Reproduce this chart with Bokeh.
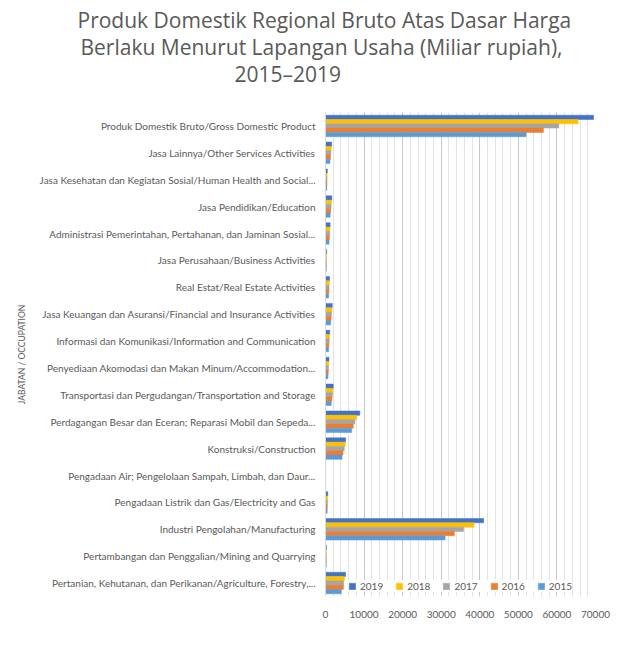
from bokeh.plotting import figure
from bokeh.models import FactorRange, Range1d, Legend, LegendItem, ColumnDataSource, SingleIntervalTicker, Title
from bokeh.transform import dodge
from bokeh.embed import file_html
from bokeh.resources import INLINE

# categories listed top to bottom as in the reference
categories = [
    "Produk Domestik Bruto/Gross Domestic Product",
    "Jasa Lainnya/Other Services Activities",
    "Jasa Kesehatan dan Kegiatan Sosial/Human Health and Social...",
    "Jasa Pendidikan/Education",
    "Administrasi Pemerintahan, Pertahanan, dan Jaminan Sosial...",
    "Jasa Perusahaan/Business Activities",
    "Real Estat/Real Estate Activities",
    "Jasa Keuangan dan Asuransi/Financial and Insurance Activities",
    "Informasi dan Komunikasi/Information and Communication",
    "Penyediaan Akomodasi dan Makan Minum/Accommodation...",
    "Transportasi dan Pergudangan/Transportation and Storage",
    "Perdagangan Besar dan Eceran; Reparasi Mobil dan Sepeda...",
    "Konstruksi/Construction",
    "Pengadaan Air; Pengelolaan Sampah, Limbah, dan Daur...",
    "Pengadaan Listrik dan Gas/Electricity and Gas",
    "Industri Pengolahan/Manufacturing",
    "Pertambangan dan Penggalian/Mining and Quarrying",
    "Pertanian, Kehutanan, dan Perikanan/Agriculture, Forestry,...",
]
years = ["2019", "2018", "2017", "2016", "2015"]
v2019 = [69500, 1600, 480, 1650, 1200, 300, 1050, 1750, 1100, 900, 2000, 8900, 5200, 40, 600, 41000, 250, 5200]
v2018 = [65500, 1500, 440, 1550, 1150, 280, 990, 1650, 1030, 840, 1900, 8100, 5100, 38, 560, 38500, 240, 4900]
v2017 = [60500, 1400, 400, 1450, 1100, 260, 930, 1550, 960, 780, 1800, 7650, 4850, 36, 520, 35800, 230, 4700]
v2016 = [56500, 1300, 370, 1350, 1000, 240, 870, 1450, 880, 720, 1650, 7200, 4550, 34, 480, 33400, 220, 4650]
v2015 = [52000, 1150, 330, 1200, 920, 220, 800, 1350, 800, 650, 1500, 6800, 4300, 32, 440, 31000, 210, 4100]
series = [v2019, v2018, v2017, v2016, v2015]
colors = ["#4472C4", "#FFC000", "#A5A5A5", "#ED7D31", "#5B9BD5"]
offsets = [0.32, 0.16, 0.0, -0.16, -0.32]
title_lines = [
    "Produk Domestik Regional Bruto Atas Dasar Harga",
    "Berlaku Menurut Lapangan Usaha (Miliar rupiah),",
    "2015\u20132019",
]
title_offsets = [-248, -245, -91]

FONT = "Lato"
GREY = "#595959"

src = ColumnDataSource(data=dict(cat=categories, **{"y" + y: s for y, s in zip(years, series)}))

p = figure(
    width=616, height=643,
    y_range=FactorRange(factors=categories[::-1], range_padding=0),
    x_range=Range1d(0, 70000),
    output_backend="svg", toolbar_location=None,
)
p.title = None
# spacer between the title block and the plot frame
p.add_layout(Title(text=" ", text_font_size="1px", standoff=23), "above")
for line, off in list(zip(title_lines, title_offsets))[::-1]:
    p.add_layout(Title(text=line, align="left", offset=off, text_font="Open Sans",
                       text_font_size="21px", text_font_style="normal", text_color=GREY,
                       standoff=-3), "above")

items = []
for y, c, off in zip(years, colors, offsets):
    r = p.hbar(y=dodge("cat", off, range=p.y_range), right="y" + y, left=0, height=0.16,
               source=src, fill_color=c, line_color=c, line_width=0.5)
    items.append(LegendItem(label=y, renderers=[r]))

p.xaxis.ticker = SingleIntervalTicker(interval=10000, num_minor_ticks=5)
p.xgrid.grid_line_color = "#c8c8c8"
p.xgrid.minor_grid_line_color = "#e3e3e3"
p.ygrid.grid_line_color = None
p.outline_line_color = None

p.xaxis.axis_line_color = None
p.xaxis.major_tick_line_color = None
p.xaxis.minor_tick_line_color = None
p.xaxis.major_label_text_font = FONT
p.xaxis.major_label_text_font_size = "10px"
p.xaxis.major_label_text_color = GREY
p.xaxis.major_label_standoff = 8

p.yaxis.axis_line_color = "#d9d9d9"
p.yaxis.major_tick_line_color = None
p.yaxis.major_label_text_font = FONT
p.yaxis.major_label_text_font_size = "10px"
p.yaxis.major_label_text_color = GREY
p.yaxis.major_label_standoff = 4
p.yaxis.axis_label = "JABATAN / OCCUPATION"
p.yaxis.axis_label_text_font = FONT
p.yaxis.axis_label_text_font_size = "8.5px"
p.yaxis.axis_label_text_font_style = "normal"
p.yaxis.axis_label_text_color = GREY
p.yaxis.axis_label_standoff = 10

legend = Legend(items=items, orientation="horizontal", location="bottom_center",
                label_text_font=FONT, label_text_font_size="10px", label_text_color=GREY,
                glyph_width=8, glyph_height=8, border_line_color=None,
                background_fill_color="white", background_fill_alpha=1.0,
                spacing=12, padding=3, margin=4, label_standoff=4)
p.add_layout(legend, "center")

p.min_border_left = 325
p.min_border_right = 21
p.min_border_top = 112
p.min_border_bottom = 47

open("out.html", "w").write(file_html(p, INLINE))
